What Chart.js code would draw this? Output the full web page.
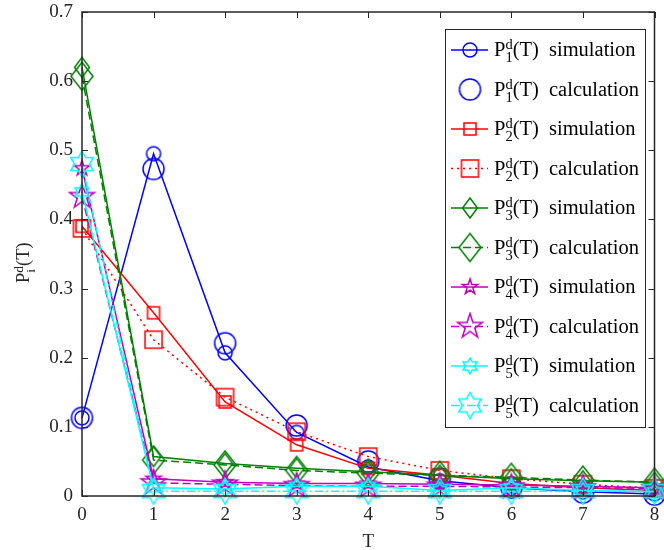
<!DOCTYPE html>
<html>
<head>
<title>P_i^d(T)</title>
<script src="https://cdn.jsdelivr.net/npm/chart.js"></script>
<style>
    body { margin: 0; background: #fff; }
    #wrap { width: 664px; height: 550px; }
</style>
</head>
<body>
<div id="wrap"><canvas id="chart" width="664" height="550"></canvas></div>
<script>
// ---- data ----
const T = [0, 1, 2, 3, 4, 5, 6, 7, 8];
const p1Sim  = [0.113, 0.495, 0.207, 0.092, 0.042, 0.022, 0.012, 0.006, 0.003];
const p1Calc = [0.113, 0.473, 0.221, 0.102, 0.050, 0.025, 0.012, 0.005, 0.002];
const p2Sim  = [0.390, 0.265, 0.136, 0.074, 0.040, 0.030, 0.018, 0.012, 0.008];
const p2Calc = [0.387, 0.226, 0.143, 0.093, 0.057, 0.037, 0.025, 0.017, 0.011];
const p3Sim  = [0.620, 0.057, 0.047, 0.040, 0.035, 0.030, 0.025, 0.022, 0.020];
const p3Calc = [0.607, 0.052, 0.045, 0.037, 0.033, 0.030, 0.027, 0.023, 0.020];
const p4Sim  = [0.474, 0.025, 0.020, 0.018, 0.018, 0.017, 0.016, 0.014, 0.012];
const p4Calc = [0.433, 0.019, 0.017, 0.015, 0.014, 0.014, 0.013, 0.012, 0.011];
const p5Sim  = [0.440, 0.012, 0.010, 0.014, 0.014, 0.008, 0.012, 0.008, 0.006];
const p5Calc = [0.480, 0.007, 0.007, 0.007, 0.007, 0.007, 0.007, 0.007, 0.007];
const xTicks = [0, 1, 2, 3, 4, 5, 6, 7, 8];
const yTicks = [0, 0.1, 0.2, 0.3, 0.4, 0.5, 0.6, 0.7];
const seriesIdx  = ['1', '1', '2', '2', '3', '3', '4', '4', '5', '5'];
const seriesKind = ['simulation', 'calculation', 'simulation', 'calculation', 'simulation',
                    'calculation', 'simulation', 'calculation', 'simulation', 'calculation'];

const FONT = 'Liberation Serif';
const AXIS = '#262626';
const BLUE = '#0000ff', RED = '#ff0000', GREEN = '#008000', MAG = '#bf00bf', CYAN = '#00ffff';

// marker sprites (MATLAB-like outlines)
function sprite(size, draw) {
    const c = document.createElement('canvas');
    c.width = c.height = size;
    const g = c.getContext('2d');
    g.translate(size / 2, size / 2);
    g.lineWidth = 1.5;
    g.beginPath();
    draw(g);
    g.closePath();
    g.stroke();
    return c;
}
function circle(d, color) {
    return sprite(Math.ceil(d + 4), g => { g.strokeStyle = color; g.arc(0, 0, d / 2, 0, Math.PI * 2); });
}
function square(s, color) {
    return sprite(Math.ceil(s + 4), g => { g.strokeStyle = color; g.rect(-s / 2, -s / 2, s, s); });
}
function diamond(w, h, color) {
    return sprite(Math.ceil(Math.max(w, h) + 4), g => {
        g.strokeStyle = color;
        g.moveTo(0, -h / 2); g.lineTo(w / 2, 0); g.lineTo(0, h / 2); g.lineTo(-w / 2, 0);
    });
}
function star(n, outer, ratio, color) {
    return sprite(Math.ceil(outer * 2 + 4), g => {
        g.strokeStyle = color;
        for (let k = 0; k < n * 2; k++) {
            const r = k % 2 ? outer * ratio : outer;
            const a = -Math.PI / 2 + k * Math.PI / n;
            g.lineTo(r * Math.cos(a), r * Math.sin(a));
        }
    });
}

const markers = [
    circle(14, BLUE), circle(21, BLUE),
    square(12, RED), square(17, RED),
    diamond(15, 20, GREEN), diamond(22, 28, GREEN),
    star(5, 8, 0.382, MAG), star(5, 13, 0.382, MAG),
    star(6, 8, 0.577, CYAN), star(6, 13, 0.577, CYAN)
];
const colors = [BLUE, BLUE, RED, RED, GREEN, GREEN, MAG, MAG, CYAN, CYAN];
const dashes = [[], [], [], [2, 4], [], [8, 4], [], [8, 4], [], [8, 3, 2, 3]];
const values = [p1Sim, p1Calc, p2Sim, p2Calc, p3Sim, p3Calc, p4Sim, p4Calc, p5Sim, p5Calc];

const datasets = values.map((v, i) => ({
    label: 'P' + seriesIdx[i] + ' ' + seriesKind[i],
    data: T.map((t, k) => ({ x: t, y: v[k] })),
    borderColor: colors[i],
    backgroundColor: colors[i],
    borderWidth: 1.5,
    borderDash: dashes[i],
    showLine: i !== 1,
    pointStyle: markers[i],
    pointRadius: 8,
    pointHoverRadius: 8,
    tension: 0,
    clip: false,
    order: 10 - i
}));

// P^d_idx(T) with stacked super/subscript
function drawP(ctx, x, y, sub, big, small, raise, drop) {
    ctx.font = big + 'px "' + FONT + '"';
    ctx.fillText('P', x, y);
    x += ctx.measureText('P').width;
    ctx.font = small + 'px "' + FONT + '"';
    ctx.fillText('d', x, y - raise);
    ctx.fillText(sub, x, y + drop);
    x += Math.max(ctx.measureText('d').width, ctx.measureText(sub).width);
    ctx.font = big + 'px "' + FONT + '"';
    ctx.fillText('(T)', x, y);
    return x + ctx.measureText('(T)').width;
}

const framePlugin = {
    id: 'frame',
    afterDatasetsDraw(chart) {
        const ctx = chart.ctx;
        const a = chart.chartArea;
        const xs = chart.scales.x, ys = chart.scales.y;
        ctx.save();
        ctx.strokeStyle = AXIS;
        ctx.lineWidth = 1.5;
        ctx.setLineDash([]);
        ctx.strokeRect(a.left, a.top, a.right - a.left, a.bottom - a.top);
        ctx.lineWidth = 1;
        ctx.beginPath();
        xTicks.forEach(v => {
            const px = Math.round(xs.getPixelForValue(v)) + 0.5;
            ctx.moveTo(px, a.bottom); ctx.lineTo(px, a.bottom - 6);
            ctx.moveTo(px, a.top); ctx.lineTo(px, a.top + 6);
        });
        yTicks.forEach(v => {
            const py = Math.round(ys.getPixelForValue(v)) + 0.5;
            ctx.moveTo(a.left, py); ctx.lineTo(a.left + 6, py);
            ctx.moveTo(a.right, py); ctx.lineTo(a.right - 6, py);
        });
        ctx.stroke();

        // y axis title
        ctx.fillStyle = AXIS;
        ctx.textBaseline = 'alphabetic';
        ctx.translate(29, 283);
        ctx.rotate(-Math.PI / 2);
        drawP(ctx, 0, 0, 'i', 18.5, 13.5, 6, 6);
        ctx.restore();

        // legend
        const L = { x: 445, y: 29, w: 200, h: 398 };
        ctx.save();
        ctx.fillStyle = '#fff';
        ctx.fillRect(L.x, L.y, L.w, L.h);
        ctx.strokeStyle = AXIS;
        ctx.lineWidth = 1;
        ctx.strokeRect(L.x + 0.5, L.y + 0.5, L.w, L.h);
        chart.data.datasets.forEach((ds, i) => {
            const cy = 50 + i * 39.5;
            if (ds.showLine) {
                ctx.strokeStyle = ds.borderColor;
                ctx.lineWidth = 1.5;
                ctx.setLineDash(ds.borderDash);
                ctx.beginPath();
                ctx.moveTo(451, cy); ctx.lineTo(488, cy);
                ctx.stroke();
                ctx.setLineDash([]);
            }
            const m = ds.pointStyle;
            ctx.drawImage(m, 470 - m.width / 2, cy - m.height / 2);
            ctx.fillStyle = '#000';
            ctx.textBaseline = 'alphabetic';
            drawP(ctx, 494, cy + 6, seriesIdx[i], 20.5, 14.5, 7, 6);
            ctx.font = '20.5px "' + FONT + '"';
            ctx.fillText(seriesKind[i], 549, cy + 6);
        });
        ctx.restore();
    }
};

// fixed plot box like the MATLAB axes: drop the label overflow paddings
function noPad(s) {
    s.paddingTop = 0; s.paddingBottom = 0; s.paddingLeft = 0; s.paddingRight = 0;
}

new Chart(document.getElementById('chart'), {
    type: 'line',
    data: { datasets },
    options: {
        responsive: false,
        animation: false,
        devicePixelRatio: 1,
        layout: { padding: { left: 0, right: 4, top: 12, bottom: 0 } },
        plugins: { legend: { display: false }, tooltip: { enabled: false } },
        scales: {
            x: {
                type: 'linear', min: 0, max: 8,
                grid: { display: false, drawTicks: false },
                border: { display: false },
                afterBuildTicks: s => { s.ticks = xTicks.map(v => ({ value: v })); },
                afterFit: s => { s.height = 54; noPad(s); },
                ticks: { padding: 8, color: AXIS, font: { family: FONT, size: 19 }, maxRotation: 0 },
                title: { display: true, text: 'T', color: AXIS, font: { family: FONT, size: 19 },
                         padding: { top: 0, bottom: -3 } }
            },
            y: {
                type: 'linear', min: 0, max: 0.7,
                grid: { display: false, drawTicks: false },
                border: { display: false },
                afterBuildTicks: s => { s.ticks = yTicks.map(v => ({ value: v })); },
                afterFit: s => { s.width = 82; noPad(s); },
                ticks: { padding: 9, color: AXIS, font: { family: FONT, size: 19 },
                         callback: v => String(Math.round(v * 10) / 10) }
            }
        }
    },
    plugins: [framePlugin]
});
</script>
</body>
</html>
